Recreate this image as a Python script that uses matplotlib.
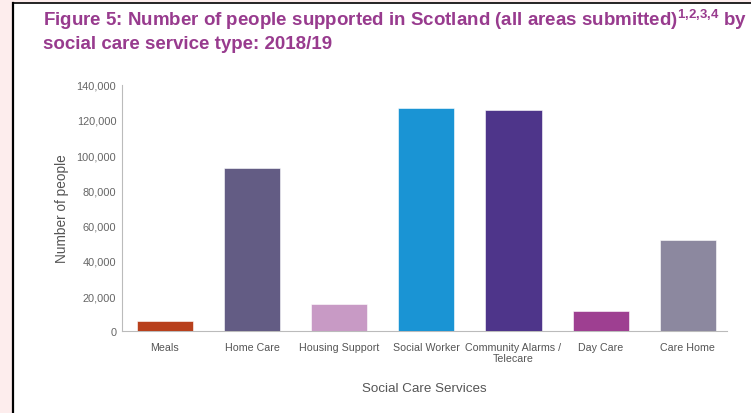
import matplotlib
matplotlib.use("Agg")
import matplotlib.pyplot as plt
from matplotlib.ticker import FuncFormatter
from matplotlib.patches import Rectangle
from matplotlib.lines import Line2D

categories = ["Meals", "Home Care", "Housing Support", "Social Worker",
              "Community Alarms /\nTelecare", "Day Care", "Care Home"]
values = [5900, 92600, 15700, 127000, 125700, 11500, 51800]
colors = ["#B8401C", "#635C84", "#C89AC5", "#1A94D4", "#4E358A", "#9E3F91", "#8C889F"]
yticks = [0, 20000, 40000, 60000, 80000, 100000, 120000, 140000]

W, H = 751, 414
fig = plt.figure(figsize=(W / 100, H / 100), dpi=100)
fig.patch.set_facecolor("white")

# page background strips and border
fig.patches.append(Rectangle((0, 0), 12.5 / W, 1, transform=fig.transFigure,
                             facecolor="#FDEDED", edgecolor="none", zorder=0))
fig.patches.append(Rectangle((0, 1 - 3.5 / H), 1, 3.5 / H, transform=fig.transFigure,
                             facecolor="#FDEDED", edgecolor="none", zorder=0))
fig.lines.append(Line2D([12.5 / W, 12.5 / W], [0, 1 - 3.5 / H], transform=fig.transFigure,
                        color="black", lw=1.6, zorder=5))
fig.lines.append(Line2D([12.5 / W, 1], [1 - 3.5 / H, 1 - 3.5 / H], transform=fig.transFigure,
                        color="black", lw=1.2, zorder=5))

ax_left, ax_right, ax_bottom, ax_top = 122.3, 727, 332.3, 85.7
ax = fig.add_axes([ax_left / W, (H - ax_bottom) / H, (ax_right - ax_left) / W,
                   (ax_bottom - ax_top) / H])
x = list(range(len(categories)))
ax.bar(x, values, width=0.645, color=colors, edgecolor="white", linewidth=0.4, zorder=3)
ax.set_xlim(-0.49, 6.45)
ax.set_ylim(0, 140000)
ax.set_yticks(yticks)
ax.yaxis.set_major_formatter(FuncFormatter(lambda v, p: f"{int(v):,}"))
ax.set_xticks(x)
ax.set_xticklabels(categories, fontsize=7.7, color="#555555", family="Liberation Sans",
                   linespacing=1.1)
for lab in ax.get_yticklabels():
    lab.set_fontsize(7.9)
    lab.set_color("#666666")
    lab.set_family("Liberation Sans")
ax.tick_params(axis="both", length=0)
ax.tick_params(axis="x", pad=8)
ax.tick_params(axis="y", pad=4.3)
for s in ["top", "right"]:
    ax.spines[s].set_visible(False)
for s in ["left", "bottom"]:
    ax.spines[s].set_color("#BBBBBB")
    ax.spines[s].set_linewidth(0.8)

ax.set_ylabel("Number of people", fontsize=9.8, color="#555555", family="Liberation Sans")
ax.yaxis.set_label_coords((62 - ax_left) / (ax_right - ax_left), 0.5)
ax.yaxis.label.set_va("center")
ax.set_xlabel("Social Care Services", fontsize=9.6, color="#555555", family="Liberation Sans")
ax.xaxis.set_label_coords(0.5, -(389 - ax_bottom) / (ax_bottom - ax_top))
ax.xaxis.label.set_va("center")

title_color = "#983B8E"
fig.text(43 / W, 1 - 26.5 / H,
         r"Figure 5: Number of people supported in Scotland (all areas submitted)$^{\mathregular{1{,}2{,}3{,}4}}$ by",
         fontsize=13.5, fontweight="bold", color=title_color, family="Liberation Sans",
         ha="left", va="baseline")
fig.text(43 / W, 1 - 49 / H, "social care service type: 2018/19",
         fontsize=13.5, fontweight="bold", color=title_color, family="Liberation Sans",
         ha="left", va="baseline")

fig.savefig("out.png", dpi=100)
